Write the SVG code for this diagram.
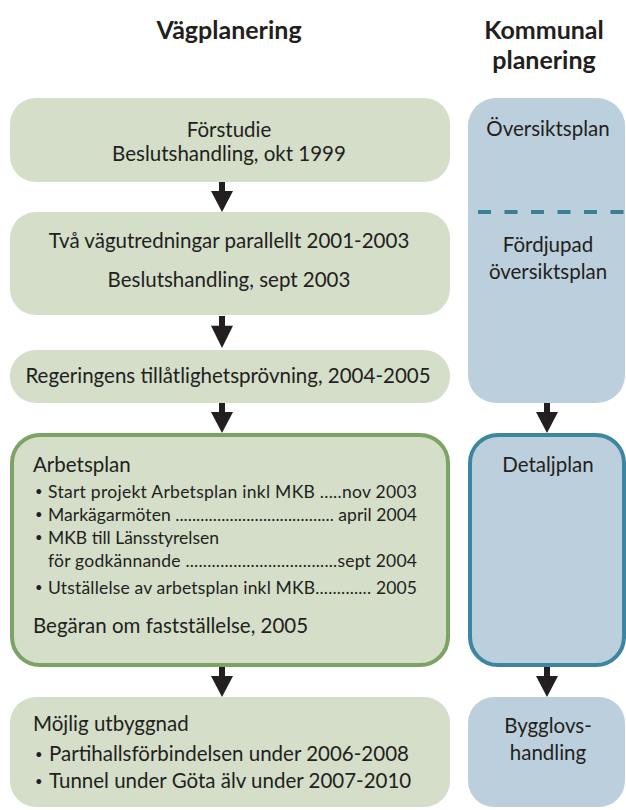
<svg xmlns="http://www.w3.org/2000/svg" width="626" height="810" viewBox="0 0 626 810">
<style>
.g{fill:#d4dec9}
.b{fill:#bccfdc}
.gs{fill:#d4dec9;stroke:#7ba365;stroke-width:4}
.bs{fill:#bccfdc;stroke:#3c86a1;stroke-width:4}
text{font-family:Lato,"Liberation Sans",sans-serif;fill:#231f20}
.t{font-size:20.5px}
.s{font-size:17.5px}
.d{font-size:13px}
.h{font-size:25px;font-weight:bold}
.c{text-anchor:middle}
.ar{fill:#231f20}
</style>
<defs>
<path id="arrow" d="M-3,0 H3 V9 H11 L0,30 L-11,9 H-3 Z"/>
</defs>
<g id="headers">
<text class="h c" x="229" y="39">Vägplanering</text>
<text class="h c" x="544" y="39">Kommunal</text>
<text class="h c" x="544" y="69">planering</text>
</g>
<g id="forstudie">
<rect class="g" x="10" y="98" width="440" height="84" rx="26"/>
<text class="t c" x="229" y="137">Förstudie</text>
<text class="t c" x="229" y="161">Beslutshandling, okt 1999</text>
</g>
<g id="vagutredningar">
<rect class="g" x="10" y="212" width="440" height="103" rx="26"/>
<text class="t c" x="229" y="248">Två vägutredningar parallellt 2001-2003</text>
<text class="t c" x="229" y="287">Beslutshandling, sept 2003</text>
</g>
<g id="tillatlighet">
<rect class="g" x="10" y="350" width="440" height="53" rx="26"/>
<text class="t c" x="228" y="383">Regeringens tillåtlighetsprövning, 2004-2005</text>
</g>
<g id="arbetsplan">
<rect class="gs" x="12" y="435" width="436" height="230" rx="28"/>
<text class="t" x="33" y="472">Arbetsplan</text>
<text class="d" x="35" y="496">•</text>
<text class="s" x="48" y="498" textLength="369" lengthAdjust="spacing">Start projekt Arbetsplan inkl MKB .....nov 2003</text>
<text class="d" x="35" y="519">•</text>
<text class="s" x="48" y="521" textLength="369" lengthAdjust="spacing">Markägarmöten ...................................... april 2004</text>
<text class="d" x="35" y="542">•</text>
<text class="s" x="48" y="544">MKB till Länsstyrelsen</text>
<text class="s" x="48" y="567" textLength="369" lengthAdjust="spacing">för godkännande ...................................sept 2004</text>
<text class="d" x="35" y="592">•</text>
<text class="s" x="48" y="594" textLength="369" lengthAdjust="spacing">Utställelse av arbetsplan inkl MKB............. 2005</text>
<text class="t" x="33" y="633">Begäran om fastställelse, 2005</text>
</g>
<g id="utbyggnad">
<rect class="g" x="10" y="697" width="440" height="110" rx="26"/>
<text class="t" x="33" y="731">Möjlig utbyggnad</text>
<text class="d" x="35" y="759">•</text>
<text class="t" x="49" y="761">Partihallsförbindelsen under 2006-2008</text>
<text class="d" x="35" y="786">•</text>
<text class="t" x="49" y="788">Tunnel under Göta älv under 2007-2010</text>
</g>
<g id="oversiktsplan">
<rect class="b" x="468" y="98" width="157" height="305" rx="28"/>
<line x1="478" y1="212" x2="626" y2="212" stroke="#3a7f98" stroke-width="4" stroke-dasharray="13 13.5"/>
<text class="t c" x="548" y="136">Översiktsplan</text>
<text class="t c" x="548" y="252">Fördjupad</text>
<text class="t c" x="548" y="279">översiktsplan</text>
</g>
<g id="detaljplan">
<rect class="bs" x="470" y="435" width="154" height="230" rx="28"/>
<text class="t c" x="548" y="472">Detaljplan</text>
</g>
<g id="bygglov">
<rect class="b" x="468" y="697" width="157" height="110" rx="26"/>
<text class="t c" x="548" y="733">Bygglovs-</text>
<text class="t c" x="548" y="760">handling</text>
</g>
<g id="connectors">
<use href="#arrow" class="ar" transform="translate(222,182)"/>
<use href="#arrow" class="ar" transform="translate(222,316) scale(1,1.07)"/>
<use href="#arrow" class="ar" transform="translate(222,403)"/>
<use href="#arrow" class="ar" transform="translate(222,667)"/>
<use href="#arrow" class="ar" transform="translate(547,403)"/>
<use href="#arrow" class="ar" transform="translate(547,667)"/>
</g>
</svg>
